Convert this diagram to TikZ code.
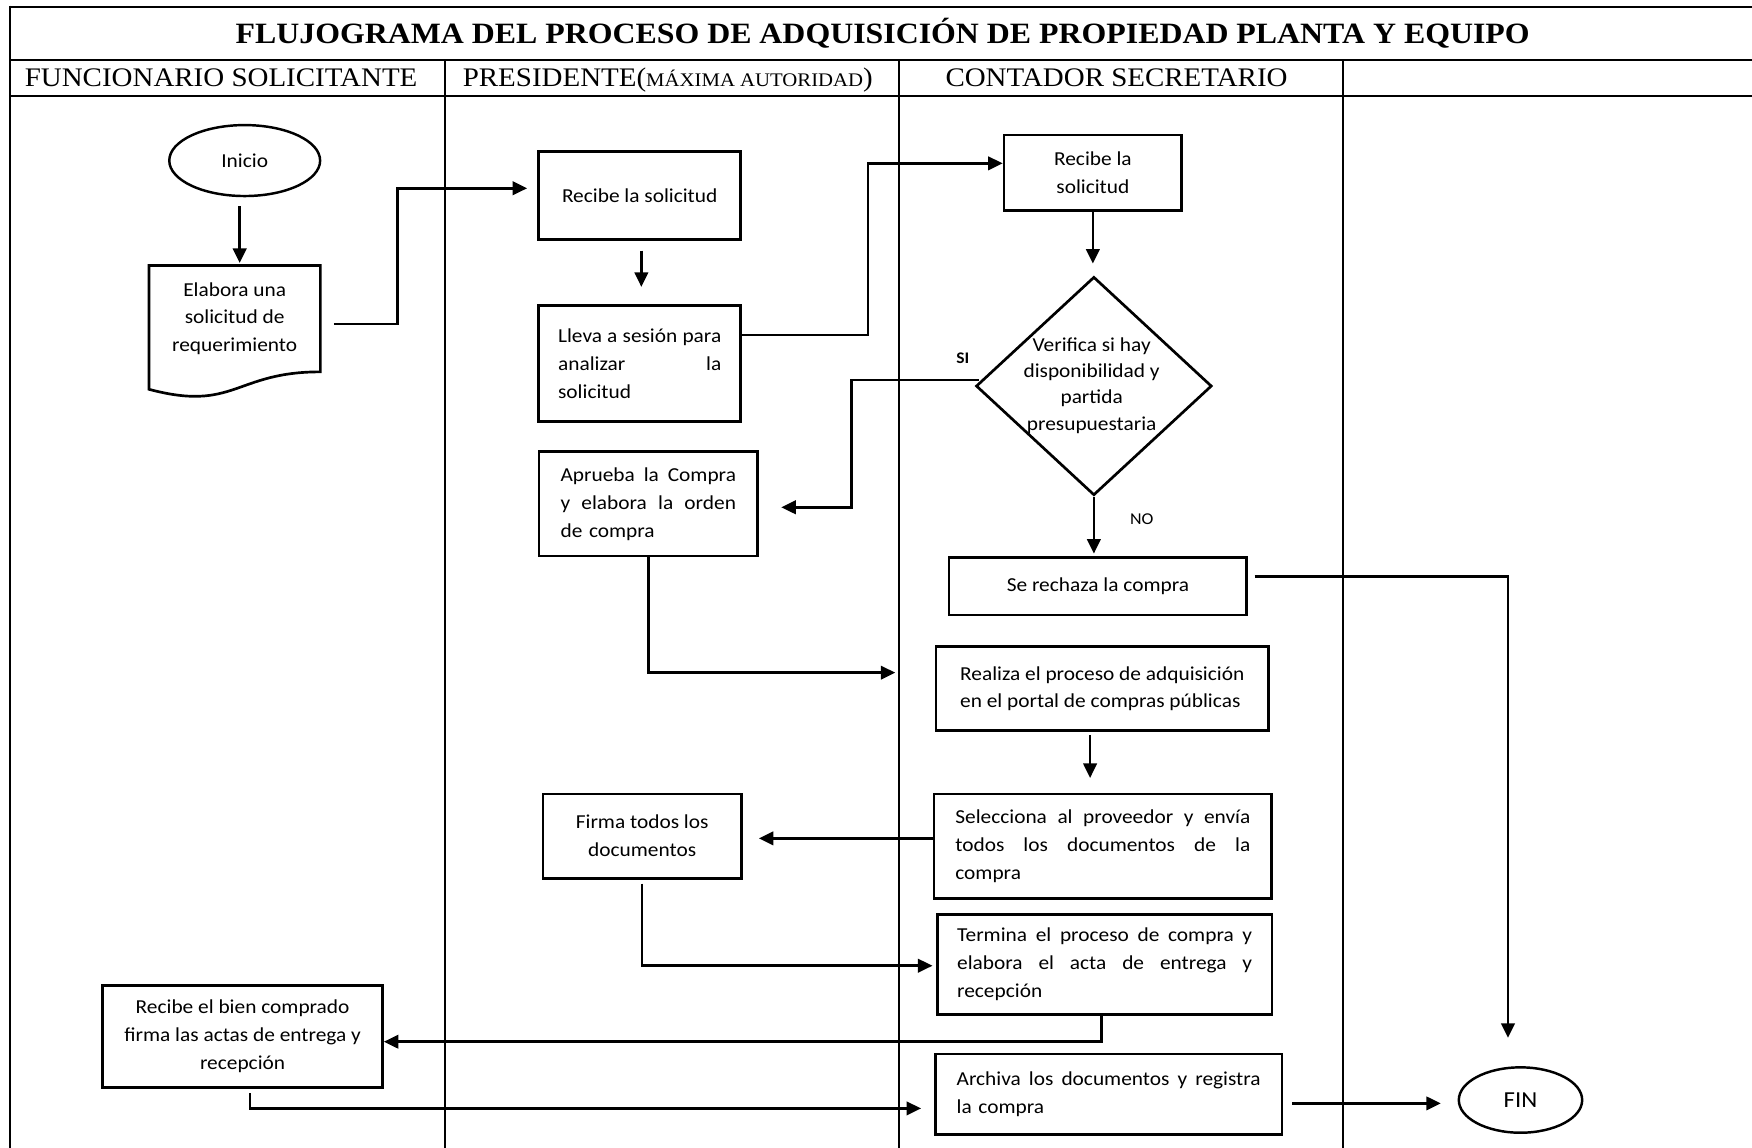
\documentclass[tikz,border=0pt]{standalone}
\usepackage{fontspec}
\setmainfont[FakeStretch=1.08]{Liberation Serif}
\newfontfamily\calfont[FakeStretch=1.08]{Carlito}
\usetikzlibrary{arrows.meta,shapes.geometric,calc}
\newcommand{\jline}[2]{\makebox[#1][l]{#2}}
\begin{document}
\begin{tikzpicture}[x=1pt,y=-1pt,
  tbl/.style={line width=1.8pt},
  hdr/.style={inner sep=0pt,anchor=base west,font=\fontsize{24}{28}\selectfont},
  txt/.style={font=\calfont\fontsize{17.7}{25}\selectfont},
  box/.style={txt,draw,line width=2.4pt,rectangle,inner sep=0pt},
  term/.style={txt,draw,line width=2.2pt,ellipse,inner sep=0pt},
  arr/.style={line width=2.4pt,-{Triangle[length=13pt,width=12pt]}},
  lbl/.style={inner sep=0pt}]
\useasboundingbox (0,0) rectangle (1568,1027);
% table
\draw[tbl] (9,6) -- (1570,6);
\draw[tbl] (9,5.1) -- (9,1030);
\draw[tbl] (9,54) -- (1570,54);
\draw[tbl] (9,85.5) -- (1570,85.5);
\draw[tbl] (398.4,54) -- (398.4,1030);
\draw[tbl] (805,54) -- (805,1030);
\draw[tbl] (1201.5,54) -- (1201.5,1030);
% titles
\node[inner sep=0pt,anchor=base,font=\fontsize{26.4}{30}\selectfont\bfseries] (title) at (790,39)
  {FLUJOGRAMA DEL PROCESO DE ADQUISICIÓN DE PROPIEDAD PLANTA Y EQUIPO};
\node[hdr] (h1) at (22,77.5) {FUNCIONARIO SOLICITANTE};
\node[hdr] (h2) at (414,77.5) {PRESIDENTE({\fontsize{17.2}{20}\selectfont MÁXIMA AUTORIDAD})};
\node[hdr] (h3) at (846,77.5) {CONTADOR SECRETARIO};
% nodes
\node[term,minimum width=135pt,minimum height=63.5pt] (inicio) at (219,143.7) {Inicio};
\node[txt,inner sep=0pt,minimum width=153pt,minimum height=94.8pt,align=center] (doc) at (210,285.2)
  {Elabora una\\solicitud de\\requerimiento};
\draw[line width=2.4pt,line join=miter] (doc.north west) -- (doc.north east) -- (doc.south east)
  .. controls (doc.south) and ($(doc.south)+(0,36.1)$) .. ($(doc.south west)+(0,15.6)$) -- cycle;
\node[box,minimum width=181pt,minimum height=78.3pt] (recibe1) at (572.5,174.9) {Recibe la solicitud};
\node[box,minimum width=181pt,minimum height=103.8pt,text width=146pt,align=left] (lleva) at (572.5,325.5)
  {\jline{146pt}{Lleva\hfill a\hfill sesión\hfill para}\\\jline{146pt}{analizar\hfill la}\\solicitud};
\node[box,minimum width=159pt,minimum height=67.8pt,align=center] (recibe2) at (978.1,154.7) {Recibe la\\solicitud};
\node[draw,diamond,line width=2.4pt,minimum width=211pt,minimum height=195.5pt,inner sep=0pt] (dia) at (979,345.5) {};
\node[inner sep=0pt,align=center,font=\calfont\fontsize{17.7}{23.5}\selectfont] (diatext) at (977,345)
  {Verifica si hay\\disponibilidad y\\partida\\presupuestaria};
\node[box,minimum width=195.6pt,minimum height=93.4pt,text width=157pt,align=left] (aprueba) at (580.2,450.9)
  {\jline{157pt}{Aprueba\hfill la\hfill Compra}\\\jline{157pt}{y\hfill elabora\hfill la\hfill orden}\\de compra};
\node[box,minimum width=266.4pt,minimum height=51.4pt] (rechaza) at (982.6,524.7) {Se rechaza la compra};
\node[box,minimum width=297.7pt,minimum height=75.2pt,align=left] (realiza) at (986.5,616.4)
  {Realiza el proceso de adquisición\\en el portal de compras públicas};
\node[box,minimum width=302pt,minimum height=93.4pt,text width=264pt,align=left] (selecciona) at (987,757.3)
  {\jline{264pt}{Selecciona\hfill al\hfill proveedor\hfill y\hfill envía}\\\jline{264pt}{todos\hfill los\hfill documentos\hfill de\hfill la}\\compra};
\node[box,minimum width=177.5pt,minimum height=75.4pt,align=center] (firma) at (574.7,748.3)
  {Firma todos los\\documentos};
\node[box,minimum width=299.7pt,minimum height=89.3pt,text width=264pt,align=left] (termina) at (988.6,863)
  {\jline{264pt}{Termina\hfill el\hfill proceso\hfill de\hfill compra\hfill y}\\\jline{264pt}{elabora\hfill el\hfill acta\hfill de\hfill entrega\hfill y}\\recepción};
\node[box,minimum width=250.5pt,minimum height=90.8pt,align=center] (recibe3) at (217.1,927.6)
  {Recibe el bien comprado\\firma las actas de entrega y\\recepción};
\node[box,minimum width=310.5pt,minimum height=71.9pt,text width=272pt,align=left] (archiva) at (992.2,979.2)
  {\jline{272pt}{Archiva\hfill los\hfill documentos\hfill y\hfill registra}\\la compra};
\node[term,minimum width=110.4pt,minimum height=58.5pt,font=\calfont\fontsize{20.5}{24}\selectfont] (fin) at (1360.8,984.5) {FIN};
% labels
\node[lbl,font=\calfont\fontsize{14.5}{17}\selectfont\bfseries] (si) at (861.6,320.5) {SI};
\node[lbl,font=\calfont\fontsize{14.8}{17}\selectfont] (no) at (1021.8,464.8) {NO};
% connectors
\draw[arr,shorten <=8pt,shorten >=2.2pt] ([xshift=-4.5pt]inicio.south) -- ([xshift=4.5pt]doc.north);
\draw[arr] ([xshift=12pt,yshift=-4.8pt]doc.east) -- ++(56.9,0) |- ([xshift=-9pt,yshift=6.4pt]recibe1.west);
\draw[arr,shorten <=9pt,shorten >=15.6pt] ([xshift=1.5pt]recibe1.south) -- ([xshift=1.5pt]lleva.north);
\draw[arr] ([yshift=25.7pt]lleva.east) -- ++(112.7,0) |- ([yshift=8.5pt]recibe2.west);
\draw[arr,shorten >=10.6pt] (recibe2.south) -- (recibe2.south |- dia.north);
\draw[arr] ([xshift=3.5pt,yshift=5.5pt]dia.west) -- ++(-114,0) |- ([xshift=20pt,yshift=-3.1pt]aprueba.east);
\draw[arr,shorten >=2.3pt] (dia.south) -- (dia.south |- rechaza.north);
\draw[arr] (aprueba.south) |- ([xshift=-35.2pt,yshift=14.4pt]realiza.west);
\draw[arr] ([xshift=5.8pt,yshift=8.7pt]rechaza.east) -| ([xshift=-11.2pt,yshift=25.3pt]fin.north);
\draw[arr,shorten <=2.4pt,shorten >=13.1pt] ([xshift=-10.9pt]realiza.south) -- ([xshift=-11.4pt]selecciona.north);
\draw[arr] ([yshift=7pt]selecciona.west) -- ([xshift=14.5pt,yshift=-2pt]firma.east);
\draw[arr,shorten <=3.7pt] (firma.south) |- ([xshift=-3pt,yshift=-1.3pt]termina.west);
\draw[arr] ([xshift=-2.6pt]termina.south) |- ([yshift=-4.7pt]recibe3.east);
\draw[arr,shorten <=4pt] ([xshift=6.6pt]recibe3.south) |- ([xshift=-11.4pt,yshift=-12.8pt]archiva.west);
\draw[arr] ([xshift=7.8pt,yshift=-8.3pt]archiva.east) -- ([xshift=-15pt,yshift=-3pt]fin.west);
\end{tikzpicture}
\end{document}
